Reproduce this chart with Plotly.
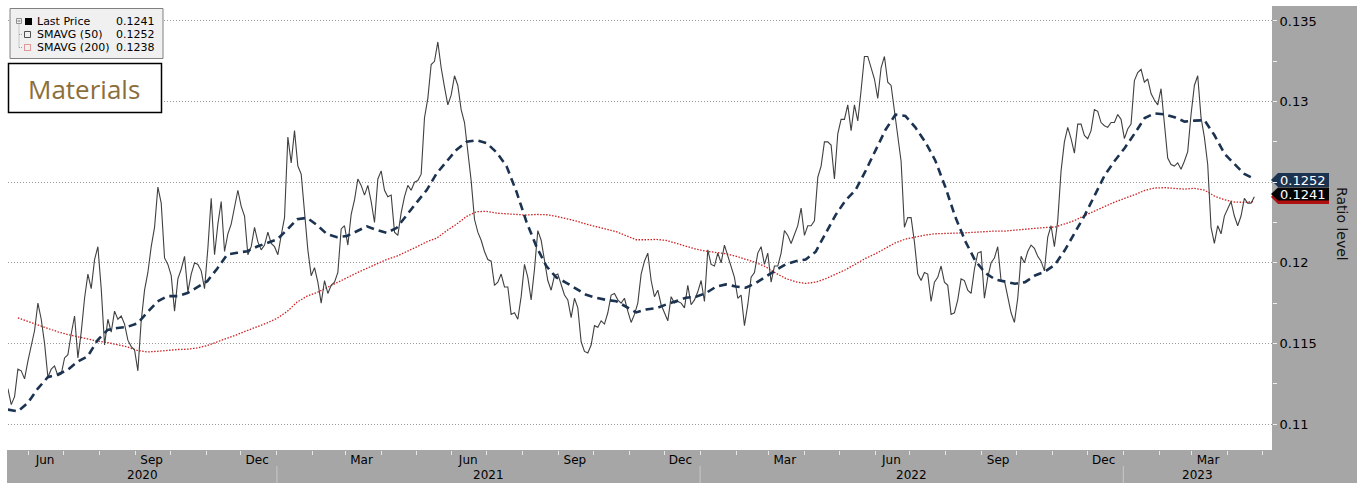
import pandas as pd
import plotly.graph_objects as go

# ------------------------------------------------------------------ data
price_start, price_end = "2020-05-14", "2023-04-24"
last_price = [
    0.1122, 0.1112, 0.1117, 0.1134, 0.1133, 0.1128, 0.1139, 0.1148, 0.1158, 0.1175,
    0.1165, 0.1150, 0.1129, 0.1134, 0.1136, 0.1130, 0.1131, 0.1141, 0.1143, 0.1156,
    0.1167, 0.1141, 0.1157, 0.1178, 0.1193, 0.1184, 0.1202, 0.1210, 0.1184, 0.1149,
    0.1165, 0.1157, 0.1170, 0.1165, 0.1167, 0.1162, 0.1152, 0.1148, 0.1146, 0.1133,
    0.1164, 0.1183, 0.1194, 0.1210, 0.1222, 0.1247, 0.1237, 0.1203, 0.1199, 0.1192,
    0.1170, 0.1190, 0.1196, 0.1204, 0.1182, 0.1193, 0.1200, 0.1199, 0.1195, 0.1184,
    0.1209, 0.1240, 0.1205, 0.1224,
    0.1238, 0.1207, 0.1218, 0.1224, 0.1234, 0.1245, 0.1235, 0.1229, 0.1205, 0.1210,
    0.1222, 0.1213, 0.1208, 0.1211, 0.1219, 0.1212, 0.1210, 0.1205, 0.1217, 0.1228,
    0.1278, 0.1262, 0.1282, 0.1260, 0.1255, 0.1230, 0.1208, 0.1192, 0.1197, 0.1188,
    0.1175, 0.1189, 0.1181, 0.1186, 0.1188, 0.1194, 0.1221, 0.1223, 0.1211, 0.1230,
    0.1239, 0.1252, 0.1248, 0.1242, 0.1248, 0.1238, 0.1225, 0.1252, 0.1257, 0.1245,
    0.1241, 0.1242, 0.1219, 0.1217, 0.1231, 0.1241, 0.1248, 0.1245, 0.1250, 0.1251,
    0.1255, 0.1290, 0.1302,
    0.1323, 0.1325, 0.1337, 0.1321, 0.1309, 0.1298, 0.1304, 0.1316, 0.1310, 0.1295,
    0.1287, 0.1270, 0.1251, 0.1227, 0.1219, 0.1214, 0.1207, 0.1202, 0.1201, 0.1186,
    0.1188, 0.1193, 0.1185, 0.1185, 0.1168, 0.1169, 0.1165, 0.1179, 0.1199, 0.1191,
    0.1177, 0.1196, 0.1220, 0.1214, 0.1200, 0.1189, 0.1183, 0.1192, 0.1193, 0.1186,
    0.1180, 0.1177, 0.1166, 0.1178, 0.1172, 0.1151, 0.1145, 0.1144, 0.1149, 0.1161,
    0.1160, 0.1164, 0.1162, 0.1169, 0.1180, 0.1181, 0.1177, 0.1175, 0.1178, 0.1170,
    0.1163, 0.1168, 0.1175,
    0.1193, 0.1201, 0.1206, 0.1189, 0.1179, 0.1183, 0.1174, 0.1169, 0.1164, 0.1179,
    0.1175, 0.1176, 0.1175, 0.1172, 0.1186, 0.1174, 0.1177, 0.1182, 0.1189, 0.1176,
    0.1208, 0.1199, 0.1198, 0.1206, 0.1200, 0.1211, 0.1204, 0.1198, 0.1191, 0.1178,
    0.1180, 0.1161, 0.1174, 0.1191, 0.1194, 0.1206, 0.1210, 0.1199, 0.1206, 0.1188,
    0.1198, 0.1198, 0.1206, 0.1220, 0.1217, 0.1212, 0.1217, 0.1223, 0.1234, 0.1217,
    0.1223, 0.1223, 0.1226, 0.1253, 0.1260, 0.1275, 0.1275, 0.1273, 0.1252, 0.1280,
    0.1289, 0.1289, 0.1298,
    0.1282, 0.1298, 0.1288, 0.1307, 0.1328, 0.1328, 0.1321, 0.1314, 0.1302, 0.1321,
    0.1328, 0.1312, 0.1310, 0.1295, 0.1279, 0.1263, 0.1222, 0.1228, 0.1228, 0.1213,
    0.1193, 0.1189, 0.1194, 0.1193, 0.1176, 0.1188, 0.1191, 0.1198, 0.1188, 0.1186,
    0.1168, 0.1169, 0.1177, 0.1190, 0.1189, 0.1183, 0.1181, 0.1196, 0.1206, 0.1207,
    0.1178, 0.1191, 0.1200, 0.1203, 0.1210, 0.1189, 0.1189, 0.1178, 0.1169, 0.1163,
    0.1178, 0.1204, 0.1200, 0.1207, 0.1211, 0.1209, 0.1204, 0.1201, 0.1195, 0.1216,
    0.1223, 0.1210, 0.1226,
    0.1257, 0.1275, 0.1284, 0.1277, 0.1268, 0.1286, 0.1286, 0.1279, 0.1277, 0.1282,
    0.1295, 0.1294, 0.1287, 0.1285, 0.1284, 0.1287, 0.1287, 0.1292, 0.1289, 0.1277,
    0.1283, 0.1286, 0.1313, 0.1318, 0.1320, 0.1312, 0.1314, 0.1305, 0.1301, 0.1298,
    0.1308, 0.1286, 0.1265, 0.1261, 0.1260, 0.1262, 0.1258, 0.1263, 0.1269, 0.1292,
    0.1310, 0.1316, 0.1290, 0.1278, 0.1261, 0.1222, 0.1212, 0.1223, 0.1218, 0.1229,
    0.1234, 0.1238, 0.1229, 0.1223, 0.1229, 0.1240, 0.1237, 0.1237, 0.1241,
]

ma_start, ma_end = "2020-05-14", "2023-04-24"
smavg_50 = [
    0.11089, 0.11079, 0.11131, 0.11220, 0.11290, 0.11307, 0.11336, 0.11387, 0.11420, 0.11520,
    0.11584, 0.11596, 0.11603, 0.11625, 0.11694, 0.11760, 0.11793, 0.11793, 0.11812, 0.11847,
    0.11886, 0.11965,
    0.12052, 0.12062, 0.12072, 0.12101, 0.12124, 0.12145, 0.12205, 0.12271, 0.12279, 0.12234,
    0.12178, 0.12159, 0.12166, 0.12195, 0.12226, 0.12203, 0.12186, 0.12217, 0.12298, 0.12375,
    0.12451,
    0.12555, 0.12629, 0.12702, 0.12751, 0.12760, 0.12743, 0.12685, 0.12600, 0.12441, 0.12255,
    0.12101, 0.11979, 0.11909, 0.11876, 0.11836, 0.11801, 0.11783, 0.11770, 0.11762, 0.11727,
    0.11692,
    0.11710, 0.11718, 0.11741, 0.11764, 0.11783, 0.11789, 0.11812, 0.11851, 0.11866, 0.11853,
    0.11845, 0.11874, 0.11915, 0.11954, 0.11990, 0.12010, 0.12021, 0.12068, 0.12182, 0.12296,
    0.12387,
    0.12451, 0.12569, 0.12700, 0.12824, 0.12919, 0.12911, 0.12840, 0.12749, 0.12635, 0.12472,
    0.12286, 0.12135, 0.12014, 0.11938, 0.11897, 0.11882, 0.11870, 0.11880, 0.11921, 0.11946,
    0.11988,
    0.12079, 0.12186, 0.12296, 0.12420, 0.12544, 0.12633, 0.12712, 0.12803, 0.12898, 0.12927,
    0.12921, 0.12903, 0.12876, 0.12882, 0.12884, 0.12791, 0.12677, 0.12613, 0.12551, 0.12520,
]
smavg_200 = [
    None, 0.11658, 0.11636, 0.11613, 0.11594, 0.11572, 0.11555, 0.11540, 0.11526, 0.11514,
    0.11505, 0.11493, 0.11478, 0.11456, 0.11447, 0.11451, 0.11458, 0.11462, 0.11464, 0.11472,
    0.11487, 0.11509,
    0.11530, 0.11555, 0.11580, 0.11603, 0.11627, 0.11656, 0.11698, 0.11756, 0.11793, 0.11816,
    0.11845, 0.11874, 0.11907, 0.11938, 0.11965, 0.11994, 0.12021, 0.12041, 0.12068, 0.12099,
    0.12130,
    0.12153, 0.12199, 0.12240, 0.12288, 0.12317, 0.12319, 0.12308, 0.12304, 0.12300, 0.12296,
    0.12300, 0.12298, 0.12288, 0.12275, 0.12259, 0.12240, 0.12224, 0.12209, 0.12193, 0.12168,
    0.12143,
    0.12143, 0.12145, 0.12139, 0.12122, 0.12101, 0.12085, 0.12072, 0.12064, 0.12056, 0.12041,
    0.12021, 0.12002, 0.11975, 0.11936, 0.11903, 0.11882, 0.11872, 0.11880, 0.11901, 0.11928,
    0.11957,
    0.11992, 0.12027, 0.12056, 0.12089, 0.12124, 0.12147, 0.12161, 0.12172, 0.12180, 0.12184,
    0.12184, 0.12186, 0.12190, 0.12193, 0.12197, 0.12197, 0.12203, 0.12209, 0.12215, 0.12219,
    0.12221,
    0.12242, 0.12263, 0.12294, 0.12321, 0.12352, 0.12377, 0.12400, 0.12422, 0.12449, 0.12464,
    0.12466, 0.12460, 0.12457, 0.12462, 0.12451, 0.12414, 0.12391, 0.12377, 0.12375, 0.12380,
]

legend_names = ["Last Price", "SMAVG (50)", "SMAVG (200)"]
legend_values = ["0.1241", "0.1252", "0.1238"]
month_tick_dates = ["2020-06-15", "2020-09-15", "2020-12-15", "2021-03-15", "2021-06-15",
                    "2021-09-15", "2021-12-15", "2022-03-15", "2022-06-15", "2022-09-15",
                    "2022-12-15", "2023-03-15"]
month_tick_text = ["Jun", "Sep", "Dec", "Mar", "Jun", "Sep", "Dec", "Mar", "Jun", "Sep", "Dec", "Mar"]
years = ["2020", "2021", "2022", "2023"]
y_tick_vals = [0.11, 0.115, 0.12, 0.125, 0.13, 0.135]
y_tick_text = ["0.11", "0.115", "0.12", "", "0.13", "0.135"]
title_text = "Materials"
axis_title = "Ratio level"

# ------------------------------------------------------------------ layout constants
W, H = 1357, 483
ML, MR, MT, MB = 8, 85, 6, 33
PW, PH = W - ML - MR, H - MT - MB
X_RANGE = ["2020-05-14 02:00", "2023-05-09 05:00"]
Y_RANGE = [0.108387, 0.13593]
GRAY = "#a6a6a6"
FONT = "DejaVu Sans"


def px(x):
    return (x - ML) / PW


def py(y):
    return (H - MB - y) / PH


price_dates = pd.date_range(price_start, price_end, periods=len(last_price))
ma_dates = pd.date_range(ma_start, ma_end, periods=len(smavg_50))

fig = go.Figure()
fig.add_trace(go.Scatter(x=ma_dates, y=smavg_200, mode="lines", name=legend_names[2],
                         line=dict(color="#cc2020", width=1.3, dash="1.5px,1.5px")))
fig.add_trace(go.Scatter(x=price_dates, y=last_price, mode="lines", name=legend_names[0],
                         line=dict(color="#404040", width=1.1)))
fig.add_trace(go.Scatter(x=ma_dates, y=smavg_50, mode="lines", name=legend_names[1],
                         line=dict(color="#1b3350", width=2.6, dash="8px,5px")))

shapes = []
# gray axis panels
shapes.append(dict(type="rect", xref="paper", yref="paper", x0=px(7), x1=px(W), y0=py(H), y1=py(450),
                   fillcolor=GRAY, line=dict(width=0), layer="below"))
shapes.append(dict(type="rect", xref="paper", yref="paper", x0=px(1272), x1=px(W), y0=py(H), y1=py(6),
                   fillcolor=GRAY, line=dict(width=0), layer="below"))
# year separators
for yr in years[1:]:
    shapes.append(dict(type="line", xref="x", yref="paper", x0=f"{yr}-01-01", x1=f"{yr}-01-01",
                       y0=py(483), y1=py(466), line=dict(color="#c8c8c8", width=1), layer="below"))


def tag_path(ytop, ybot, ymid, xtip=1271, x0=1278, x1=1329):
    return (f"M {px(xtip)},{py(ymid)} L {px(x0)},{py(ytop)} L {px(x1)},{py(ytop)} "
            f"L {px(x1)},{py(ybot)} L {px(x0)},{py(ybot)} Z")


shapes.append(dict(type="path", xref="paper", yref="paper", path=tag_path(189, 204, 197),
                   fillcolor="#b01010", line=dict(width=0), layer="below"))
shapes.append(dict(type="path", xref="paper", yref="paper", path=tag_path(187.5, 200.5, 194),
                   fillcolor="#050505", line=dict(width=0), layer="below"))
shapes.append(dict(type="path", xref="paper", yref="paper", path=tag_path(173, 187, 180),
                   fillcolor="#1b3350", line=dict(width=0), layer="below"))

# legend box
shapes.append(dict(type="rect", xref="paper", yref="paper", x0=px(10), x1=px(163), y0=py(58.5), y1=py(8.5),
                   fillcolor="#f0f0f0", line=dict(color="#808080", width=1), layer="above"))
shapes.append(dict(type="rect", xref="paper", yref="paper", x0=px(16.5), x1=px(21.5), y0=py(23.5), y1=py(18.5),
                   fillcolor="#f0f0f0", line=dict(color="#909090", width=1), layer="above"))
shapes.append(dict(type="line", xref="paper", yref="paper", x0=px(17.5), x1=px(20.5), y0=py(21), y1=py(21),
                   line=dict(color="#707070", width=1), layer="above"))
shapes.append(dict(type="line", xref="paper", yref="paper", x0=px(19), x1=px(19), y0=py(47.5), y1=py(24),
                   line=dict(color="#a0a0a0", width=1, dash="1px,1px"), layer="above"))
for yy in (34.5, 47.5):
    shapes.append(dict(type="line", xref="paper", yref="paper", x0=px(19), x1=px(23), y0=py(yy), y1=py(yy),
                       line=dict(color="#a0a0a0", width=1, dash="1px,1px"), layer="above"))
shapes.append(dict(type="rect", xref="paper", yref="paper", x0=px(25), x1=px(32), y0=py(25), y1=py(18),
                   fillcolor="#000000", line=dict(width=0), layer="above"))
shapes.append(dict(type="rect", xref="paper", yref="paper", x0=px(24.5), x1=px(30.5), y0=py(37.5), y1=py(31.5),
                   fillcolor="#f0f0f0", line=dict(color="#505050", width=1), layer="above"))
shapes.append(dict(type="rect", xref="paper", yref="paper", x0=px(24.5), x1=px(30.5), y0=py(50.5), y1=py(44.5),
                   fillcolor="#f0f0f0", line=dict(color="#d04040", width=1, dash="1px,1px"), layer="above"))
# title box
shapes.append(dict(type="rect", xref="paper", yref="paper", x0=px(8.5), x1=px(161.5), y0=py(112.5), y1=py(63.5),
                   fillcolor="#ffffff", line=dict(color="#000000", width=1.5), layer="above"))

annotations = []
for i, (nm, val) in enumerate(zip(legend_names, legend_values)):
    yy = 21.5 + 13 * i
    annotations.append(dict(xref="paper", yref="paper", x=px(35), y=py(yy), text=nm, showarrow=False,
                            xanchor="left", yanchor="middle", font=dict(family=FONT, size=11, color="#000")))
    annotations.append(dict(xref="paper", yref="paper", x=px(157), y=py(yy), text=val, showarrow=False,
                            xanchor="right", yanchor="middle", font=dict(family=FONT, size=11, color="#000")))
annotations.append(dict(xref="paper", yref="paper", x=px(84), y=py(89), text=title_text, showarrow=False,
                        xanchor="center", yanchor="middle",
                        font=dict(family="Open Sans", size=26, color="#8c6d3b")))
annotations.append(dict(xref="paper", yref="paper", x=px(1303), y=py(180.5), text=legend_values[1],
                        showarrow=False, xanchor="center", yanchor="middle",
                        font=dict(family=FONT, size=13, color="#ffffff")))
annotations.append(dict(xref="paper", yref="paper", x=px(1303), y=py(194.5), text=legend_values[0],
                        showarrow=False, xanchor="center", yanchor="middle",
                        font=dict(family=FONT, size=13, color="#ffffff")))
annotations.append(dict(xref="paper", yref="paper", x=px(1342), y=py(224), text=axis_title, showarrow=False,
                        textangle=90, xanchor="center", yanchor="middle",
                        font=dict(family=FONT, size=14, color="#111")))
# year labels centred on the visible part of each year
rng0, rng1 = pd.Timestamp(X_RANGE[0]), pd.Timestamp(X_RANGE[1])
for yr in years:
    a = max(pd.Timestamp(f"{yr}-01-01"), rng0)
    b = min(pd.Timestamp(f"{int(yr) + 1}-01-01"), rng1)
    mid = a + (b - a) / 2
    annotations.append(dict(xref="x", yref="paper", x=mid, y=py(474.5), text=yr, showarrow=False,
                            xanchor="center", yanchor="middle", font=dict(family=FONT, size=12, color="#000")))

minor_month_starts = pd.date_range("2020-06-01", "2023-05-01", freq="MS")

fig.update_layout(
    width=W, height=H,
    margin=dict(l=ML, r=MR, t=MT, b=MB, pad=0),
    paper_bgcolor="#ffffff", plot_bgcolor="#ffffff",
    showlegend=False,
    shapes=shapes, annotations=annotations,
    xaxis=dict(type="date", range=X_RANGE, tickmode="array", tickvals=month_tick_dates,
               ticktext=month_tick_text, ticks="", showgrid=False, zeroline=False, showline=False,
               tickfont=dict(family=FONT, size=12, color="#000"), ticklabelstandoff=1,
               minor=dict(tickmode="array", tickvals=list(minor_month_starts), ticks="outside",
                          ticklen=4, tickcolor="#e8e8e8", showgrid=False),
               fixedrange=True),
    yaxis=dict(side="right", range=Y_RANGE, tickmode="array", tickvals=y_tick_vals, ticktext=y_tick_text,
               showgrid=True, gridcolor="#9a9a9a", griddash="1px,2px", gridwidth=1,
               ticks="outside", ticklen=4, tickcolor="#f0f0f0", zeroline=False, showline=False,
               tickfont=dict(family=FONT, size=13, color="#000"),
               minor=dict(dtick=0.0025, ticks="outside", ticklen=4, tickcolor="#f0f0f0", showgrid=False),
               fixedrange=True),
)

fig.write_html("out.html", config={"displayModeBar": False},
               post_script="document.body.style.margin='0';document.body.style.padding='0';"
                           "document.body.style.overflow='hidden';")
